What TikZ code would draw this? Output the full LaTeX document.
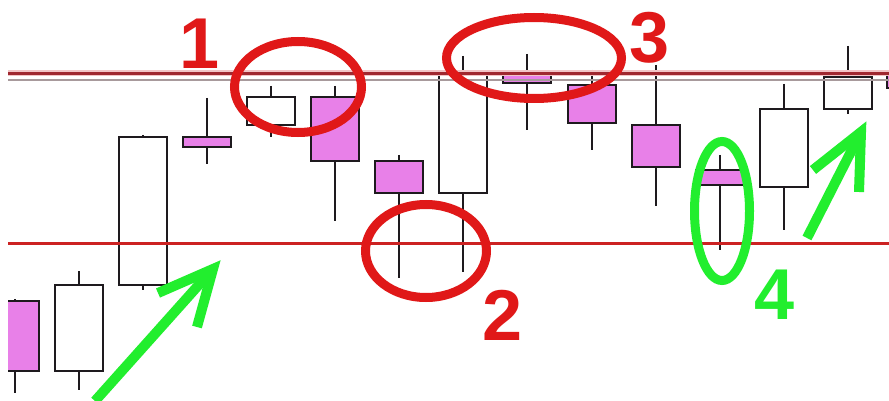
\documentclass[tikz,border=0pt]{standalone}
\usepackage{fontspec}
\setmainfont{Liberation Sans}
\definecolor{candlepink}{HTML}{E880E8}
\definecolor{candleline}{HTML}{1E1A1E}
\definecolor{topred}{HTML}{A02830}
\definecolor{tophalo}{HTML}{F2C4C6}
\definecolor{greyline}{HTML}{A89A9C}
\definecolor{lowred}{HTML}{CC2222}
\definecolor{markred}{HTML}{E01818}
\definecolor{markgreen}{HTML}{22EE2E}
\tikzset{
  wick/.style={draw=candleline,line width=1.8pt},
  bullbody/.style={draw=candleline,fill=white,line width=1.8pt},
  bearbody/.style={draw=candleline,fill=candlepink,line width=1.8pt},
  redring/.style={draw=markred,line width=9pt},
  greenring/.style={draw=markgreen,line width=9pt},
  greenarrow/.style={draw=markgreen,line width=10pt,line cap=butt,line join=miter},
  redlabel/.style={text=markred,font=\bfseries\fontsize{72}{72}\selectfont,inner sep=0pt},
  greenlabel/.style={text=markgreen,font=\bfseries\fontsize{72}{72}\selectfont,inner sep=0pt},
}
% \mycandle{style}{center x}{wick top}{body top}{body bottom}{wick bottom}
\newcommand{\mycandle}[6]{%
  \draw[wick] (#2,#3) -- (#2,#6);
  \draw[#1] (#2-24,#4) rectangle (#2+24,#5);
}
\begin{document}
\begin{tikzpicture}[x=1pt,y=-1pt]
\useasboundingbox (0,0) rectangle (889,401);
\fill[white] (0,0) rectangle (889,401);
\begin{scope}
\clip (8,0) rectangle (889,401);
% candles
\mycandle{bearbody}{15}{299}{301}{371}{393}
\mycandle{bullbody}{79}{271}{285}{371}{390}
\mycandle{bullbody}{143}{135}{137}{285}{290}
\mycandle{bearbody}{207}{98}{137}{147}{164}
\mycandle{bullbody}{271}{86}{97}{125}{137}
\mycandle{bearbody}{335}{86}{97}{161}{221}
\mycandle{bearbody}{399}{155}{161}{193}{278}
\mycandle{bullbody}{463}{56}{74}{193}{272}
\mycandle{bearbody}{527}{54}{74}{83}{130}
\mycandle{bearbody}{592}{70}{85}{123}{150}
\mycandle{bearbody}{656}{65}{125}{167}{206}
\mycandle{bearbody}{720}{155}{170}{185}{250}
\mycandle{bullbody}{784}{84}{109}{187}{230}
\mycandle{bullbody}{848}{46}{77}{109}{114}
\mycandle{bearbody}{911}{60}{72}{88}{100}
% support / resistance lines
\coordinate (topL) at (8,73.5);
\coordinate (topR) at (889,73.5);
\coordinate (greyL) at (8,80);
\coordinate (greyR) at (889,80);
\coordinate (lowL) at (8,243);
\coordinate (lowR) at (889,243);
\draw[tophalo,line width=6pt] (topL) -- (topR);
\draw[topred,line width=3pt] (topL) -- (topR);
\draw[greyline,line width=1.3pt] (greyL) -- (greyR);
\draw[lowred,line width=3pt] (lowL) -- (lowR);
\end{scope}
% marking ellipses
\draw[redring] (298,87) ellipse [x radius=63.5, y radius=45.5];
\draw[redring] (426,251) ellipse [x radius=60.5, y radius=46.5];
\draw[redring] (534,58) ellipse [x radius=87.5, y radius=40.5];
\draw[greenring] (722,211) ellipse [x radius=27.5, y radius=69.5];
% labels
\node[redlabel] (l1) at (200,44) {1};
\node[redlabel] (l2) at (503,315) {2};
\node[redlabel] (l3) at (650,38) {3};
\node[greenlabel] (l4) at (775,295) {4};
% green arrows
\coordinate (a1tail) at (95,401);
\coordinate (a1tip) at (213,269);
\coordinate (a1armL) at (158,293);
\coordinate (a1armR) at (197,327);
\draw[greenarrow] (a1tail) -- (a1tip);
\draw[greenarrow] (a1armL) -- (a1tip) -- (a1armR);
\coordinate (a2tail) at (807,238);
\coordinate (a2tip) at (861,132);
\coordinate (a2armL) at (813,170);
\coordinate (a2armR) at (859,192);
\draw[greenarrow] (a2tail) -- (a2tip);
\draw[greenarrow] (a2armL) -- (a2tip) -- (a2armR);
\end{tikzpicture}
\end{document}
